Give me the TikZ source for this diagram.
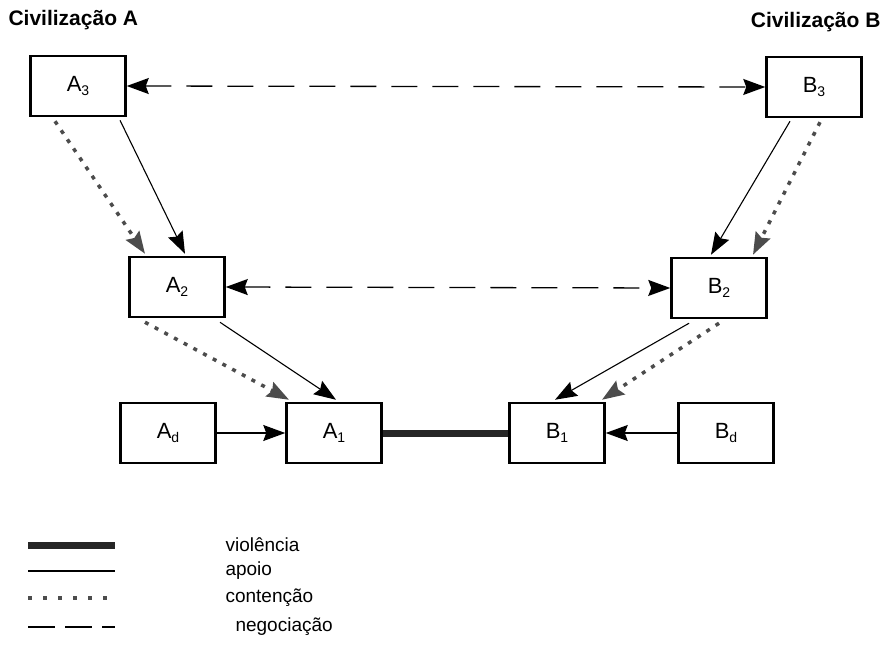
\documentclass[tikz,border=0pt]{standalone}
\usepackage{fontspec}
\setmainfont{Liberation Sans}
\usetikzlibrary{arrows.meta,calc}
\newcommand{\lab}[2]{#1\raisebox{-0.4ex}{\fontsize{14}{14}\selectfont #2}}
\begin{document}
\begin{tikzpicture}[x=1pt,y=-1pt,
  box/.style={draw,line width=2.5pt,minimum width=95pt,minimum height=60pt,inner sep=0pt,font=\fontsize{22}{22}\selectfont},
  tip/.style={-{Stealth[length=22pt,width=16pt,inset=3pt]}},
  apoio/.style={tip,line width=1.1pt},
  cont/.style={tip,line width=3.5pt,gray!60!black,dash pattern=on 4pt off 7pt},
  neg/.style={{Stealth[length=22pt,width=16pt,inset=3pt]}-{Stealth[length=22pt,width=16pt,inset=3pt]},line width=1.3pt,dash pattern=on 26pt off 15pt},
  viol/.style={line width=7pt,black!85},
  civ/.style={font=\fontsize{21}{21}\selectfont\bfseries},
  leg/.style={font=\fontsize{19}{19}\selectfont,anchor=west}]
\useasboundingbox (0,0) rectangle (890,666);
\node[civ,anchor=west] (civA) at (5,20) {Civilização A};
\node[civ,anchor=east] (civB) at (884,22) {Civilização B};
\node[box] (A3) at (78,86) {\lab{A}{3}};
\node[box] (B3) at (814,87) {\lab{B}{3}};
\node[box] (A2) at (177,287) {\lab{A}{2}};
\node[box] (B2) at (719,288) {\lab{B}{2}};
\node[box] (Ad) at (168,433) {\lab{A}{d}};
\node[box] (A1) at (334,433) {\lab{A}{1}};
\node[box] (B1) at (557,433) {\lab{B}{1}};
\node[box] (Bd) at (726,433) {\lab{B}{d}};
% negotiation
\draw[neg] (A3.east) -- (B3.west);
\draw[neg] (A2.east) -- (B2.west);
% A side
\draw[apoio] ($(A3.south)+(42,3)$) -- ($(A2.north)+(8,-2)$);
\draw[cont] ($(A3.south)+(-23,4)$) -- ($(A2.north)+(-32,-2)$);
\draw[apoio] ($(A2.south)+(43,4)$) -- ($(A1.north)+(2,-2)$);
\draw[cont] ($(A2.south)+(-32,4)$) -- ($(A1.north)+(-45,-2)$);
\draw[apoio] (Ad.east) -- (A1.west);
% B side
\draw[apoio] ($(B3.south)+(-24,3)$) -- ($(B2.north)+(-8,-2)$);
\draw[cont] ($(B3.south)+(6,4)$) -- ($(B2.north)+(34,-2)$);
\draw[apoio] ($(B2.south)+(-30,4)$) -- ($(B1.north)+(-2,-2)$);
\draw[cont] ($(B2.south)+(0,4)$) -- ($(B1.north)+(45,-2)$);
\draw[apoio] (Bd.west) -- (B1.east);
% violence
\draw[viol] (A1.east) -- (B1.west);
% legend
\coordinate (l1a) at (28,545); \coordinate (l1b) at (115,545);
\coordinate (l2a) at (28,571); \coordinate (l2b) at (115,571);
\coordinate (l3a) at (28,598); \coordinate (l3b) at (115,598);
\coordinate (l4a) at (28,627); \coordinate (l4b) at (115,627);
\draw[viol] (l1a) -- (l1b);
\draw[line width=1.1pt] (l2a) -- (l2b);
\draw[line width=3.5pt,gray!60!black,dash pattern=on 4pt off 11pt] (l3a) -- (l3b);
\draw[line width=1.3pt,dash pattern=on 27pt off 10pt] (l4a) -- (l4b);
\node[leg] (t1) at (222,545) {violência};
\node[leg] (t2) at (222,571) {apoio};
\node[leg] (t3) at (222,598) {contenção};
\node[leg] (t4) at (232,627) {negociação};
\end{tikzpicture}
\end{document}
